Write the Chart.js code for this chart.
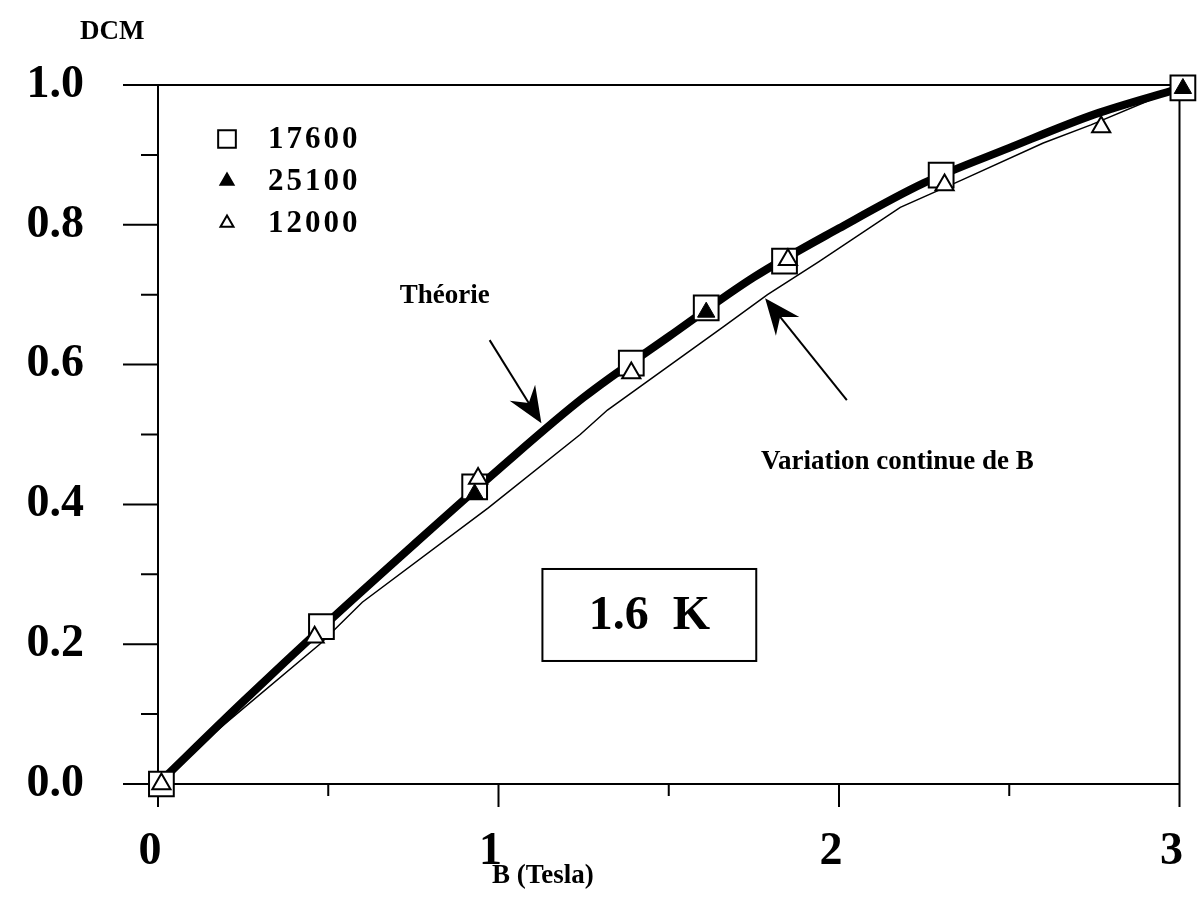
<!DOCTYPE html>
<html>
<head>
<meta charset="utf-8">
<script src="https://cdn.jsdelivr.net/npm/chart.js@4.4.1/dist/chart.umd.min.js"></script>
<style>
  html, body { margin: 0; padding: 0; background: #fff; }
  #wrap { width: 1199px; height: 910px; }
</style>
</head>
<body>
<div id="wrap"><canvas id="dcmChart"></canvas></div>
<script>
// DCM against field B at 1.6 K: three measured series, theory and continuous sweep
const seriesLabels = ["17600", "25100", "12000"];

const b17600 = [0.01, 0.48, 0.93, 1.39, 1.61, 1.84, 2.30, 3.01];
const dcm17600 = [0.0, 0.225, 0.425, 0.602, 0.681, 0.748, 0.871, 0.996];

const b25100 = [0.93, 1.61, 3.01];
const dcm25100 = [0.415, 0.675, 0.995];

const b12000 = [0.01, 0.46, 0.94, 1.39, 1.85, 2.31, 2.77];
const dcm12000 = [0.0, 0.21, 0.437, 0.588, 0.75, 0.857, 0.94];

const theoryB = [0, 0.25, 0.5, 0.75, 1.0, 1.25, 1.5, 1.75, 2.0, 2.25, 2.5, 2.75, 3.0];
const theoryDcm = [0, 0.118, 0.232, 0.342, 0.45, 0.553, 0.64, 0.725, 0.795, 0.86, 0.91, 0.958, 0.995];

const sweepB = [0, 0.15, 0.475, 0.6, 0.97, 1.24, 1.32, 1.66, 1.79, 1.94, 2.18, 2.36, 2.6, 2.74, 2.97];
const sweepDcm = [0, 0.067, 0.2, 0.26, 0.395, 0.5, 0.535, 0.654, 0.7, 0.747, 0.825, 0.864, 0.917, 0.943, 0.99];

const xTickLabels = ["0", "1", "2", "3"];
const yTickLabels = ["0.0", "0.2", "0.4", "0.6", "0.8", "1.0"];

const serif = "'Liberation Serif', 'Times New Roman', serif";

function toPoints(xs, ys) {
  return xs.map((x, i) => ({ x: x, y: ys[i] }));
}

// marker styles, shared by the datasets and the hand-drawn key
const markers = {
  "17600": { style: "rect", radius: 17.5, fill: "#fff", width: 2, keyRadius: 12.5 },
  "25100": { style: "triangle", radius: 10, fill: "#000", width: 1, keyRadius: 7.5 },
  "12000": { style: "triangle", radius: 10.5, fill: "#fff", width: 2, keyRadius: 7.5 }
};

function markerDataset(label, xs, ys) {
  const m = markers[label];
  return {
    label: label,
    data: toPoints(xs, ys),
    showLine: false,
    pointStyle: m.style,
    pointRadius: m.radius,
    pointBackgroundColor: m.fill,
    pointBorderColor: "#000",
    pointBorderWidth: m.width,
    clip: false
  };
}

function drawMarker(ctx, style, x, y, r, fill, width) {
  ctx.save();
  ctx.beginPath();
  if (style === "rect") {
    const s = Math.SQRT1_2 * r;
    ctx.rect(x - s, y - s, 2 * s, 2 * s);
  } else {
    ctx.moveTo(x, y - r);
    ctx.lineTo(x + Math.sin(2 * Math.PI / 3) * r, y + 0.5 * r);
    ctx.lineTo(x - Math.sin(2 * Math.PI / 3) * r, y + 0.5 * r);
    ctx.closePath();
  }
  ctx.fillStyle = fill;
  ctx.fill();
  ctx.lineWidth = width;
  ctx.strokeStyle = "#000";
  ctx.stroke();
  ctx.restore();
}

function drawArrow(ctx, x0, y0, x1, y1) {
  const ang = Math.atan2(y1 - y0, x1 - x0);
  const c = Math.cos(ang), s = Math.sin(ang);
  const len = 36, half = 15, notch = 24;
  ctx.save();
  ctx.strokeStyle = "#000";
  ctx.fillStyle = "#000";
  ctx.lineWidth = 2;
  ctx.beginPath();
  ctx.moveTo(x0, y0);
  ctx.lineTo(x1 - c * notch, y1 - s * notch);
  ctx.stroke();
  const bx = x1 - c * len, by = y1 - s * len;
  ctx.beginPath();
  ctx.moveTo(x1, y1);
  ctx.lineTo(bx - s * half, by + c * half);
  ctx.lineTo(x1 - c * notch, y1 - s * notch);
  ctx.lineTo(bx + s * half, by - c * half);
  ctx.closePath();
  ctx.fill();
  ctx.restore();
}

// notes placed in data units
const arrowTheory = { from: [0.974, 0.635], to: [1.126, 0.516] };
const arrowSweep = { from: [2.023, 0.549], to: [1.783, 0.695] };
const theoryNote = { text: "Théorie", at: [0.842, 0.698] };
const sweepNote = { text: "Variation continue de B", at: [1.771, 0.461] };
const tempBox = { text: "1.6  K", from: [1.129, 0.3076], to: [1.757, 0.176] };

const framePlugin = {
  id: "framePlugin",
  beforeDatasetsDraw(chart) {
    const ctx = chart.ctx;
    const a = chart.chartArea;
    const xs = chart.scales.x, ys = chart.scales.y;
    const major = 35, minor = 17, xMajor = 23, xMinor = 12;
    ctx.save();
    ctx.strokeStyle = "#000";
    ctx.lineWidth = 2;
    ctx.beginPath();
    // box with long major ticks on the outside
    ctx.moveTo(a.left - major, a.top); ctx.lineTo(a.right, a.top);
    ctx.moveTo(a.left - major, a.bottom); ctx.lineTo(a.right, a.bottom);
    ctx.moveTo(a.left, a.top); ctx.lineTo(a.left, a.bottom + xMajor);
    ctx.moveTo(a.right, a.top); ctx.lineTo(a.right, a.bottom + xMajor);
    const yt = ys.ticks.map(t => t.value);
    yt.forEach((v, i) => {
      const py = ys.getPixelForValue(v);
      ctx.moveTo(a.left - major, py); ctx.lineTo(a.left, py);
      if (i < yt.length - 1) {
        const pm = ys.getPixelForValue((v + yt[i + 1]) / 2);
        ctx.moveTo(a.left - minor, pm); ctx.lineTo(a.left, pm);
      }
    });
    const xt = xs.ticks.map(t => t.value);
    xt.forEach((v, i) => {
      const px = xs.getPixelForValue(v);
      ctx.moveTo(px, a.bottom); ctx.lineTo(px, a.bottom + xMajor);
      if (i < xt.length - 1) {
        const pm = xs.getPixelForValue((v + xt[i + 1]) / 2);
        ctx.moveTo(pm, a.bottom); ctx.lineTo(pm, a.bottom + xMinor);
      }
    });
    ctx.stroke();

    // axis titles
    ctx.fillStyle = "#000";
    ctx.font = "bold 27px " + serif;
    ctx.textBaseline = "middle";
    ctx.textAlign = "left";
    ctx.fillText("DCM", a.left - 78, a.top - 53);
    ctx.textAlign = "center";
    ctx.fillText("B (Tesla)", xs.getPixelForValue(1.13), a.bottom + 92);

    // temperature box
    const bx0 = xs.getPixelForValue(tempBox.from[0]), by0 = ys.getPixelForValue(tempBox.from[1]);
    const bx1 = xs.getPixelForValue(tempBox.to[0]), by1 = ys.getPixelForValue(tempBox.to[1]);
    ctx.strokeRect(bx0, by0, bx1 - bx0, by1 - by0);
    ctx.font = "bold 48px " + serif;
    ctx.fillText(tempBox.text, (bx0 + bx1) / 2, (by0 + by1) / 2 + 2);

    // notes with arrows
    ctx.font = "bold 27px " + serif;
    ctx.fillText(theoryNote.text, xs.getPixelForValue(theoryNote.at[0]), ys.getPixelForValue(theoryNote.at[1]));
    ctx.textAlign = "left";
    ctx.fillText(sweepNote.text, xs.getPixelForValue(sweepNote.at[0]), ys.getPixelForValue(sweepNote.at[1]));
    [arrowTheory, arrowSweep].forEach(ar => {
      drawArrow(ctx,
        xs.getPixelForValue(ar.from[0]), ys.getPixelForValue(ar.from[1]),
        xs.getPixelForValue(ar.to[0]), ys.getPixelForValue(ar.to[1]));
    });
    ctx.restore();
  },
  afterDraw(chart) {
    // key in the upper left corner of the plot
    const ctx = chart.ctx;
    const a = chart.chartArea;
    ctx.save();
    ctx.font = "bold 31px " + serif;
    ctx.letterSpacing = "3px";
    ctx.textAlign = "left";
    ctx.textBaseline = "middle";
    ctx.fillStyle = "#000";
    seriesLabels.forEach((label, i) => {
      const m = markers[label];
      const y = a.top + 54 + i * 42;
      drawMarker(ctx, m.style, a.left + 69, y, m.keyRadius, m.fill, 2);
      ctx.fillText(label, a.left + 110, y + 1);
    });
    ctx.restore();
  }
};

const ctx = document.getElementById("dcmChart").getContext("2d");
new Chart(ctx, {
  type: "scatter",
  data: {
    datasets: [
      markerDataset("12000", b12000, dcm12000),
      markerDataset("25100", b25100, dcm25100),
      markerDataset("17600", b17600, dcm17600),
      {
        label: "Variation continue de B",
        data: toPoints(sweepB, sweepDcm),
        showLine: true,
        borderColor: "#000",
        borderWidth: 1.5,
        pointRadius: 0,
        tension: 0
      },
      {
        label: "Théorie",
        data: toPoints(theoryB, theoryDcm),
        showLine: true,
        borderColor: "#000",
        borderWidth: 8,
        pointRadius: 0,
        cubicInterpolationMode: "monotone"
      }
    ]
  },
  options: {
    responsive: true,
    maintainAspectRatio: false,
    devicePixelRatio: 1,
    animation: false,
    events: [],
    layout: { padding: { top: 85, right: 19, left: 0, bottom: 0 } },
    plugins: {
      legend: { display: false },
      tooltip: { enabled: false }
    },
    scales: {
      x: {
        type: "linear",
        min: 0,
        max: 3,
        afterFit: s => {
          s.height = 126;
          s.paddingLeft = 0;
          s.paddingRight = 0;
        },
        grid: { display: false, drawTicks: false },
        border: { display: false },
        ticks: {
          stepSize: 1,
          padding: 41,
          labelOffset: -8,
          maxRotation: 0,
          autoSkip: false,
          color: "#000",
          font: { family: serif, size: 46, weight: "bold" },
          callback: (v, i) => xTickLabels[i]
        }
      },
      y: {
        type: "linear",
        min: 0,
        max: 1,
        afterFit: s => {
          s.width = 158;
          s.paddingTop = 0;
          s.paddingBottom = 0;
        },
        grid: { display: false, drawTicks: false },
        border: { display: false },
        ticks: {
          stepSize: 0.2,
          padding: 74,
          autoSkip: false,
          color: "#000",
          font: { family: serif, size: 46, weight: "bold" },
          callback: (v, i) => yTickLabels[i]
        }
      }
    }
  },
  plugins: [framePlugin]
});
</script>
</body>
</html>
